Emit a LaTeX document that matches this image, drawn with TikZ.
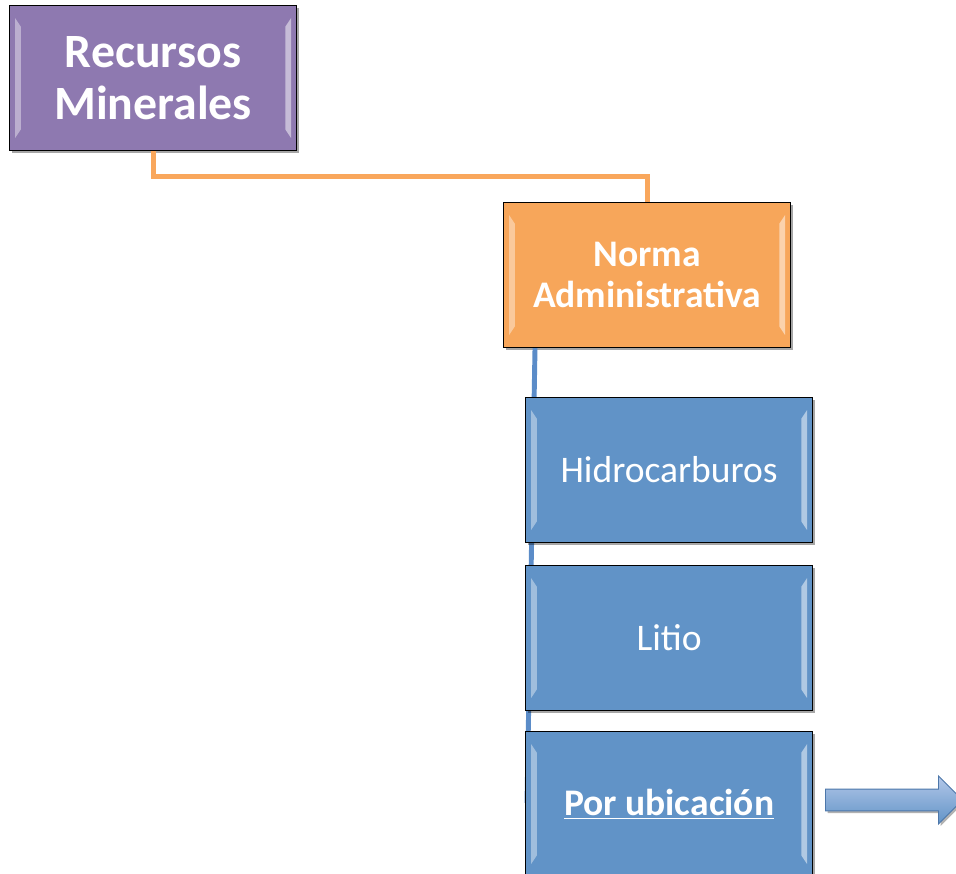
\documentclass[tikz,border=0pt]{standalone}
\usepackage{fontspec}
\setmainfont{Carlito}
\usetikzlibrary{shadows,shapes.arrows}

\definecolor{rmpurple}{HTML}{8E79B0}
\definecolor{naorange}{HTML}{F7A65A}
\definecolor{hcblue}{HTML}{6193C7}
\definecolor{lnorange}{HTML}{F9A75C}
\definecolor{lnblue}{HTML}{5B8CC8}

\tikzset{
  bevelbox/.style={draw=black, line width=0.8pt, anchor=north west, text=white,
    minimum width=7.175cm, minimum height=3.625cm, align=center,
    drop shadow={shadow xshift=1.5pt, shadow yshift=-1.5pt, opacity=.35, fill=black},
    path picture={
      \fill[white,opacity=.4] ([xshift=4pt,yshift=-9pt]path picture bounding box.north west)
        -- ([xshift=8pt,yshift=-15pt]path picture bounding box.north west)
        -- ([xshift=8pt,yshift=15pt]path picture bounding box.south west)
        -- ([xshift=4pt,yshift=9pt]path picture bounding box.south west) -- cycle;
      \fill[white,opacity=.5] ([xshift=-4pt,yshift=-9pt]path picture bounding box.north east)
        -- ([xshift=-8pt,yshift=-15pt]path picture bounding box.north east)
        -- ([xshift=-8pt,yshift=15pt]path picture bounding box.south east)
        -- ([xshift=-4pt,yshift=9pt]path picture bounding box.south east) -- cycle;
    }},
  linkline/.style={line width=3.5pt}
}

\begin{document}
\begin{tikzpicture}[x=0.025cm,y=-0.025cm]
\clip (0,0) rectangle (956,874);
% connectors first, boxes on top
\node[bevelbox,fill=rmpurple,font=\bfseries\fontsize{34}{37}\selectfont] (rm) at (9,5) {Recursos\\Minerales};
\node[bevelbox,fill=naorange,font=\bfseries\fontsize{26.7}{29}\selectfont] (norma) at (503,202) {Norma\\Administrativa};
\draw[lnorange,linkline] (rm.south) -- ++(0,25) -| (norma.north);
\coordinate (bl) at (527,803);
\draw[lnblue,linkline] ([xshift=0.8cm]norma.south west) -- (bl);
\node[bevelbox,fill=hcblue,font=\fontsize{26.7}{29}\selectfont] (hidro) at (525,397) {Hidrocarburos};
\node[bevelbox,fill=hcblue,font=\fontsize{26.7}{29}\selectfont] (litio) at (525,565) {Litio};
\node[bevelbox,fill=hcblue,font=\bfseries\fontsize{26.7}{29}\selectfont] (ubic) at (525,731) {\underline{Por ubicación}};
\node[single arrow, draw=lnblue!85!black, line width=0.6pt, top color=blue!10!hcblue!45!white, bottom color=hcblue,
  minimum height=3.425cm, minimum width=1.2cm, inner sep=0.26cm, single arrow head extend=0.325cm,
  anchor=tail, drop shadow={shadow xshift=1.5pt, shadow yshift=-1.5pt, opacity=.3, fill=black}] (arr) at (825,800) {};
\end{tikzpicture}
\end{document}
